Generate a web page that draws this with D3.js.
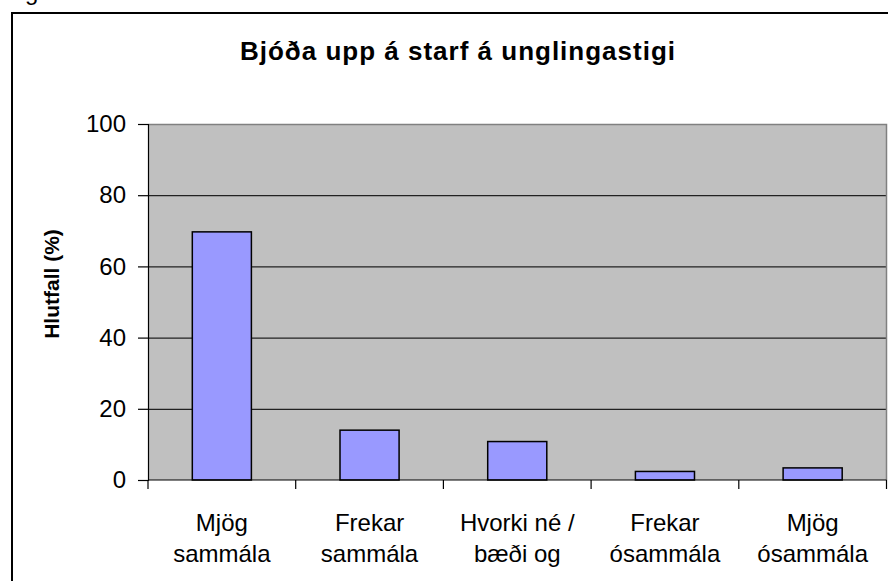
<!DOCTYPE html>
<html>
<head>
<meta charset="utf-8">
<script src="https://cdn.jsdelivr.net/npm/d3@7"></script>
<style>
  html, body { margin: 0; padding: 0; background: #fff; }
  svg { display: block; font-family: "Liberation Sans", Arial, sans-serif; }
</style>
</head>
<body>
<svg id="chart"></svg>
<script>
// chart data
const categories = [
  ['Mjög', 'sammála'],
  ['Frekar', 'sammála'],
  ['Hvorki né /', 'bæði og'],
  ['Frekar', 'ósammála'],
  ['Mjög', 'ósammála'],
];
const values = [69.7, 14.0, 10.8, 2.4, 3.4];
const yTicks = [0, 20, 40, 60, 80, 100];
const title = 'Bjóða upp á starf á unglingastigi';
const yLabel = 'Hlutfall (%)';

const w = 888; // svg width
const h = 581; // svg height
const plotLeft = 148;
const plotRight = 886.5;
const plotTop = 124;
const plotBottom = 480;

const svg = d3.select('#chart').attr('width', w).attr('height', h);

// stray descender from text above the chart frame
svg.append('text')
  .attr('x', 25)
  .attr('y', 0)
  .attr('font-size', 24)
  .text('g');

// outer chart frame (runs off the right and bottom edges)
svg.append('rect')
  .attr('x', 12)
  .attr('y', 13)
  .attr('width', 900)
  .attr('height', 600)
  .attr('fill', 'none')
  .attr('stroke', '#000')
  .attr('stroke-width', 2);

const xScale = d3.scaleBand()
  .domain(d3.range(categories.length))
  .range([plotLeft, plotRight])
  .paddingInner(0.6)
  .paddingOuter(0.3);

const yScale = d3.scaleLinear()
  .domain([0, 100])
  .range([plotBottom, plotTop]);

// plot area background
svg.append('rect')
  .attr('x', plotLeft)
  .attr('y', plotTop)
  .attr('width', plotRight - plotLeft)
  .attr('height', plotBottom - plotTop)
  .attr('fill', '#c0c0c0');

// gridlines
svg.append('g')
  .selectAll('line')
  .data(yTicks.filter((d) => d > 0 && d < 100))
  .enter()
  .append('line')
  .attr('x1', plotLeft)
  .attr('x2', plotRight)
  .attr('y1', (d) => yScale(d) + 0.5)
  .attr('y2', (d) => yScale(d) + 0.5)
  .attr('stroke', '#222')
  .attr('stroke-width', 1.2);

// plot area top and right border
svg.append('path')
  .attr('d', `M${plotLeft},${plotTop + 0.5}H${plotRight}V${plotBottom}`)
  .attr('fill', 'none')
  .attr('stroke', '#808080')
  .attr('stroke-width', 1.5);

// bars
svg.append('g')
  .selectAll('rect')
  .data(values)
  .enter()
  .append('rect')
  .attr('x', (d, i) => xScale(i))
  .attr('y', (d) => yScale(d))
  .attr('width', xScale.bandwidth())
  .attr('height', (d) => plotBottom - yScale(d))
  .attr('fill', '#9999ff')
  .attr('stroke', '#000')
  .attr('stroke-width', 1.5);

// y axis
const yAxis = d3.axisLeft(yScale)
  .tickValues(yTicks)
  .tickSize(10)
  .tickPadding(12)
  .tickFormat(d3.format('d'));
const yG = svg.append('g')
  .attr('transform', `translate(${plotLeft}, 0)`)
  .call(yAxis);
yG.select('.domain').attr('stroke', '#000').attr('stroke-width', 1.2);
yG.selectAll('.tick line').attr('stroke', '#000').attr('stroke-width', 1.2);
yG.selectAll('.tick text')
  .attr('font-size', 24)
  .attr('font-family', '"Liberation Sans", Arial, sans-serif')
  .attr('fill', '#000');

// x axis: ticks at category boundaries
const boundaries = d3.range(categories.length + 1)
  .map((i) => plotLeft + (i * (plotRight - plotLeft)) / categories.length);
const xG = svg.append('g');
xG.append('line')
  .attr('x1', plotLeft)
  .attr('x2', plotRight)
  .attr('y1', plotBottom)
  .attr('y2', plotBottom)
  .attr('stroke', '#000')
  .attr('stroke-width', 1.2);
xG.selectAll('.xtick')
  .data(boundaries)
  .enter()
  .append('line')
  .attr('class', 'xtick')
  .attr('x1', (d) => d)
  .attr('x2', (d) => d)
  .attr('y1', plotBottom)
  .attr('y2', plotBottom + 9)
  .attr('stroke', '#000')
  .attr('stroke-width', 1.2);

// category labels (two lines each)
const labels = svg.append('g')
  .selectAll('text')
  .data(categories)
  .enter()
  .append('text')
  .attr('x', (d, i) => xScale(i) + xScale.bandwidth() / 2)
  .attr('y', 531)
  .attr('text-anchor', 'middle')
  .attr('font-size', 24);
labels.selectAll('tspan')
  .data((d) => d)
  .enter()
  .append('tspan')
  .attr('x', function () { return d3.select(this.parentNode).attr('x'); })
  .attr('dy', (d, i) => (i === 0 ? 0 : 31))
  .text((d) => d);

// title
svg.append('text')
  .attr('x', 458)
  .attr('y', 60)
  .attr('text-anchor', 'middle')
  .attr('font-size', 26)
  .attr('font-weight', 'bold')
  .attr('letter-spacing', 1)
  .text(title);

// y axis label
svg.append('text')
  .attr('transform', `translate(59, ${(plotTop + plotBottom) / 2 - 18}) rotate(-90)`)
  .attr('text-anchor', 'middle')
  .attr('font-size', 21)
  .attr('font-weight', 'bold')
  .text(yLabel);
</script>
</body>
</html>
